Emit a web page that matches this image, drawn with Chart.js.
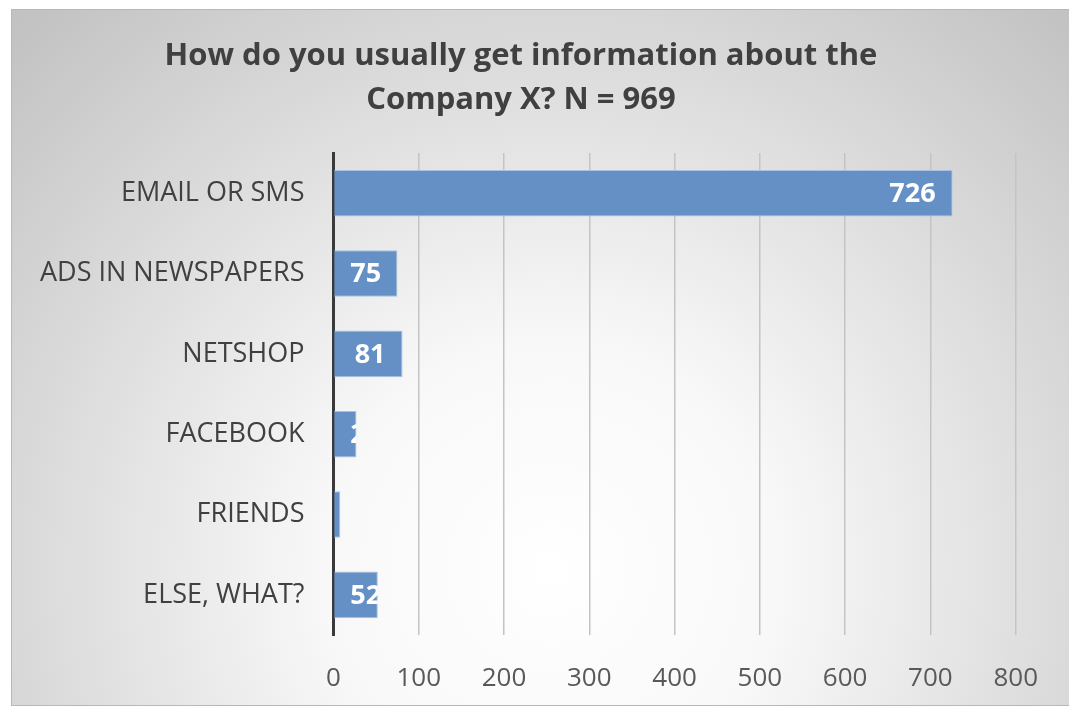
<!DOCTYPE html>
<html>
<head>
<meta charset="utf-8">
<script src="https://cdn.jsdelivr.net/npm/chart.js@4.4.1/dist/chart.umd.min.js"></script>
<style>
  html, body { margin: 0; padding: 0; background: #ffffff; }
  #wrap { position: absolute; left: 11px; top: 9px; width: 1058px; height: 697px; }
</style>
</head>
<body>
<div id="wrap"><canvas id="infoChart"></canvas></div>
<script>
    // Survey answers
    const categories = ['EMAIL OR SMS', 'ADS IN NEWSPAPERS', 'NETSHOP', 'FACEBOOK', 'FRIENDS', 'ELSE, WHAT?'];
    const answers = [726, 75, 81, 27, 8, 52];
    const axisMax = 800;
    const axisStep = 100;

    const FONT = '"Open Sans", sans-serif';

    // Grey radial backdrop with a thin frame
    const backdrop = {
        id: 'backdrop',
        beforeDraw(chart) {
            const { ctx, width, height } = chart;
            const g = ctx.createRadialGradient(540, 560, 0, 540, 560, 760);
            g.addColorStop(0, '#ffffff');
            g.addColorStop(0.3, '#f8f8f8');
            g.addColorStop(1, '#c2c2c2');
            ctx.save();
            ctx.fillStyle = g;
            ctx.fillRect(0, 0, width, height);
            ctx.strokeStyle = '#b8b8b8';
            ctx.lineWidth = 1;
            ctx.strokeRect(0.5, 0.5, width, height - 1);
            ctx.restore();
        }
    };

    // White value labels inside the bar end, clipped to the bar
    const valueLabels = {
        id: 'valueLabels',
        afterDatasetsDraw(chart) {
            const { ctx } = chart;
            const meta = chart.getDatasetMeta(0);
            ctx.save();
            ctx.font = 'bold 27px ' + FONT;
            ctx.fillStyle = '#ffffff';
            ctx.textBaseline = 'middle';
            meta.data.forEach((bar, i) => {
                const text = String(answers[i]);
                const w = ctx.measureText(text).width;
                const x = Math.max(bar.x - 17 - w, bar.base + 16);
                ctx.save();
                ctx.beginPath();
                ctx.rect(bar.base, bar.y - bar.height / 2, bar.x - bar.base, bar.height);
                ctx.clip();
                ctx.fillText(text, x, bar.y + 1);
                ctx.restore();
            });
            ctx.restore();
        }
    };

    const ctx = document.getElementById('infoChart').getContext('2d');
    const infoChart = new Chart(ctx, {
        type: 'bar',
        data: {
            labels: categories,
            datasets: [{
                data: answers,
                backgroundColor: '#6490c6',
                borderColor: '#a9c2e2',
                borderWidth: 1,
                borderSkipped: 'start',
                categoryPercentage: 1,
                barPercentage: 0.58
            }]
        },
        options: {
            indexAxis: 'y',
            responsive: true,
            maintainAspectRatio: false,
            animation: false,
            layout: { padding: { left: 0, right: 38, top: 25, bottom: -17 } },
            plugins: {
                legend: { display: false },
                tooltip: { enabled: false },
                title: {
                    display: true,
                    text: ['How do you usually get information about the', 'Company X? N = 969'],
                    color: '#404040',
                    font: { family: FONT, size: 31, weight: 'bold', lineHeight: 1.42 },
                    padding: { top: 0, bottom: 31 }
                }
            },
            scales: {
                x: {
                    min: 0,
                    max: axisMax,
                    ticks: {
                        stepSize: axisStep,
                        color: '#595959',
                        padding: 31,
                        font: { family: FONT, size: 26, lineHeight: 1 }
                    },
                    grid: { color: '#c4c4c4', lineWidth: 1.5, drawTicks: false },
                    border: { display: false }
                },
                y: {
                    ticks: {
                        color: '#404040',
                        padding: 29,
                        font: { family: FONT, size: 27 }
                    },
                    grid: { display: false, drawTicks: false },
                    border: { color: '#3a3a3a', width: 3 }
                }
            }
        },
        plugins: [backdrop, valueLabels]
    });
</script>
</body>
</html>
